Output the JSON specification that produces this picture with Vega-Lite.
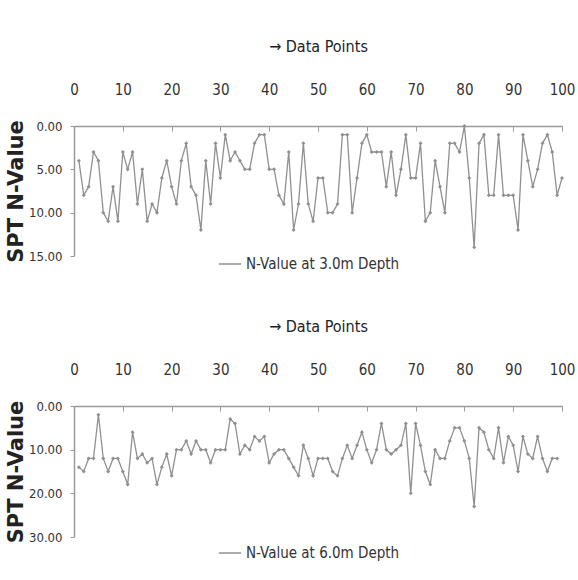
{
  "$schema": "https://vega.github.io/schema/vega-lite/v6.json",
  "background": "white",
  "padding": {"left": 5, "top": 38, "right": 0, "bottom": 4},
  "bounds": "flush",
  "spacing": 150,
  "config": {
    "font": "DejaVu Sans Condensed, Liberation Sans Narrow, Roboto, sans-serif",
    "view": {"stroke": null},
    "axis": {
      "grid": false,
      "domainColor": "#9a9a9a",
      "domainWidth": 1.5,
      "tickColor": "#9a9a9a",
      "labelColor": "#333333",
      "labelFont": "DejaVu Sans Condensed, Liberation Sans Narrow, Roboto, sans-serif",
      "titleFont": "DejaVu Sans Condensed, Liberation Sans Narrow, Roboto, sans-serif",
      "titleColor": "#222222"
    },
    "legend": {"labelFont": "DejaVu Sans Condensed, Liberation Sans Narrow, Roboto, sans-serif", "labelColor": "#333333", "labelLimit": 400}
  },
  "resolve": {
    "scale": {"x": "independent", "y": "independent", "color": "independent"},
    "legend": {"color": "independent"}
  },
  "datasets": {
    "d3": [
      {"point": 1, "n": 4}, {"point": 2, "n": 8}, {"point": 3, "n": 7}, {"point": 4, "n": 3}, {"point": 5, "n": 4},
      {"point": 6, "n": 10}, {"point": 7, "n": 11}, {"point": 8, "n": 7}, {"point": 9, "n": 11}, {"point": 10, "n": 3},
      {"point": 11, "n": 5}, {"point": 12, "n": 3}, {"point": 13, "n": 9}, {"point": 14, "n": 5}, {"point": 15, "n": 11},
      {"point": 16, "n": 9}, {"point": 17, "n": 10}, {"point": 18, "n": 6}, {"point": 19, "n": 4}, {"point": 20, "n": 7},
      {"point": 21, "n": 9}, {"point": 22, "n": 4}, {"point": 23, "n": 2}, {"point": 24, "n": 7}, {"point": 25, "n": 8},
      {"point": 26, "n": 12}, {"point": 27, "n": 4}, {"point": 28, "n": 9}, {"point": 29, "n": 2}, {"point": 30, "n": 6},
      {"point": 31, "n": 1}, {"point": 32, "n": 4}, {"point": 33, "n": 3}, {"point": 34, "n": 4}, {"point": 35, "n": 5},
      {"point": 36, "n": 5}, {"point": 37, "n": 2}, {"point": 38, "n": 1}, {"point": 39, "n": 1}, {"point": 40, "n": 5},
      {"point": 41, "n": 5}, {"point": 42, "n": 8}, {"point": 43, "n": 9}, {"point": 44, "n": 3}, {"point": 45, "n": 12},
      {"point": 46, "n": 9}, {"point": 47, "n": 2}, {"point": 48, "n": 9}, {"point": 49, "n": 11}, {"point": 50, "n": 6},
      {"point": 51, "n": 6}, {"point": 52, "n": 10}, {"point": 53, "n": 10}, {"point": 54, "n": 9}, {"point": 55, "n": 1},
      {"point": 56, "n": 1}, {"point": 57, "n": 10}, {"point": 58, "n": 6}, {"point": 59, "n": 2}, {"point": 60, "n": 1},
      {"point": 61, "n": 3}, {"point": 62, "n": 3}, {"point": 63, "n": 3}, {"point": 64, "n": 7}, {"point": 65, "n": 3},
      {"point": 66, "n": 8}, {"point": 67, "n": 5}, {"point": 68, "n": 1}, {"point": 69, "n": 6}, {"point": 70, "n": 6},
      {"point": 71, "n": 2}, {"point": 72, "n": 11}, {"point": 73, "n": 10}, {"point": 74, "n": 4}, {"point": 75, "n": 7},
      {"point": 76, "n": 10}, {"point": 77, "n": 2}, {"point": 78, "n": 2}, {"point": 79, "n": 3}, {"point": 80, "n": 0},
      {"point": 81, "n": 6}, {"point": 82, "n": 14}, {"point": 83, "n": 2}, {"point": 84, "n": 1}, {"point": 85, "n": 8},
      {"point": 86, "n": 8}, {"point": 87, "n": 1}, {"point": 88, "n": 8}, {"point": 89, "n": 8}, {"point": 90, "n": 8},
      {"point": 91, "n": 12}, {"point": 92, "n": 1}, {"point": 93, "n": 4}, {"point": 94, "n": 7}, {"point": 95, "n": 5},
      {"point": 96, "n": 2}, {"point": 97, "n": 1}, {"point": 98, "n": 3}, {"point": 99, "n": 8}, {"point": 100, "n": 6}
    ],
    "d6": [
      {"point": 1, "n": 14}, {"point": 2, "n": 15}, {"point": 3, "n": 12}, {"point": 4, "n": 12}, {"point": 5, "n": 2},
      {"point": 6, "n": 12}, {"point": 7, "n": 15}, {"point": 8, "n": 12}, {"point": 9, "n": 12}, {"point": 10, "n": 15},
      {"point": 11, "n": 18}, {"point": 12, "n": 6}, {"point": 13, "n": 12}, {"point": 14, "n": 11}, {"point": 15, "n": 13},
      {"point": 16, "n": 12}, {"point": 17, "n": 18}, {"point": 18, "n": 14}, {"point": 19, "n": 11}, {"point": 20, "n": 16},
      {"point": 21, "n": 10}, {"point": 22, "n": 10}, {"point": 23, "n": 8}, {"point": 24, "n": 11}, {"point": 25, "n": 8},
      {"point": 26, "n": 10}, {"point": 27, "n": 10}, {"point": 28, "n": 13}, {"point": 29, "n": 10}, {"point": 30, "n": 10},
      {"point": 31, "n": 10}, {"point": 32, "n": 3}, {"point": 33, "n": 4}, {"point": 34, "n": 11}, {"point": 35, "n": 9},
      {"point": 36, "n": 10}, {"point": 37, "n": 7}, {"point": 38, "n": 8}, {"point": 39, "n": 7}, {"point": 40, "n": 13},
      {"point": 41, "n": 11}, {"point": 42, "n": 10}, {"point": 43, "n": 10}, {"point": 44, "n": 12}, {"point": 45, "n": 14},
      {"point": 46, "n": 16}, {"point": 47, "n": 9}, {"point": 48, "n": 12}, {"point": 49, "n": 16}, {"point": 50, "n": 12},
      {"point": 51, "n": 12}, {"point": 52, "n": 12}, {"point": 53, "n": 15}, {"point": 54, "n": 16}, {"point": 55, "n": 12},
      {"point": 56, "n": 9}, {"point": 57, "n": 12}, {"point": 58, "n": 9}, {"point": 59, "n": 6}, {"point": 60, "n": 10},
      {"point": 61, "n": 13}, {"point": 62, "n": 10}, {"point": 63, "n": 4}, {"point": 64, "n": 10}, {"point": 65, "n": 11},
      {"point": 66, "n": 10}, {"point": 67, "n": 9}, {"point": 68, "n": 4}, {"point": 69, "n": 20}, {"point": 70, "n": 4},
      {"point": 71, "n": 9}, {"point": 72, "n": 15}, {"point": 73, "n": 18}, {"point": 74, "n": 10}, {"point": 75, "n": 12},
      {"point": 76, "n": 12}, {"point": 77, "n": 8}, {"point": 78, "n": 5}, {"point": 79, "n": 5}, {"point": 80, "n": 8},
      {"point": 81, "n": 12}, {"point": 82, "n": 23}, {"point": 83, "n": 5}, {"point": 84, "n": 6}, {"point": 85, "n": 10},
      {"point": 86, "n": 12}, {"point": 87, "n": 5}, {"point": 88, "n": 13}, {"point": 89, "n": 7}, {"point": 90, "n": 9},
      {"point": 91, "n": 15}, {"point": 92, "n": 7}, {"point": 93, "n": 11}, {"point": 94, "n": 12}, {"point": 95, "n": 7},
      {"point": 96, "n": 12}, {"point": 97, "n": 15}, {"point": 98, "n": 12}, {"point": 99, "n": 12}
    ]
  },
  "vconcat": [
    {
      "width": 488,
      "height": 130,
      "data": {"name": "d3"},
      "mark": {"type": "line", "color": "#909090", "strokeWidth": 1.3, "point": {"shape": "diamond", "size": 16, "filled": true, "color": "#555555"}},
      "encoding": {
        "x": {
          "field": "point", "type": "quantitative",
          "scale": {"domain": [0, 100], "nice": false},
          "axis": {
            "orient": "top", "values": [0, 10, 20, 30, 40, 50, 60, 70, 80, 90, 100],
            "title": "→  Data Points", "titleFontSize": 16, "titleFontWeight": "normal", "titlePadding": 28,
            "labelFontSize": 15, "labelPadding": 34, "tickSize": -5, "labelFlush": false
          }
        },
        "y": {
          "field": "n", "type": "quantitative",
          "scale": {"domain": [0, 15], "reverse": true, "nice": false},
          "axis": {
            "values": [0, 5, 10, 15], "format": ".2f",
            "title": "SPT N-Value", "titleFont": "DejaVu Sans", "titleFontSize": 21, "titleFontWeight": "bold", "titlePadding": 2,
            "labelFontSize": 13, "labelPadding": 8, "tickSize": 4
          }
        },
        "color": {
          "datum": "N-Value at 3.0m Depth",
          "scale": {"range": ["#909090"]},
          "legend": {"title": null, "orient": "none", "legendX": 144, "legendY": 126, "labelFontSize": 15, "symbolType": "stroke", "symbolSize": 500, "symbolStrokeWidth": 1.5}
        }
      }
    },
    {
      "width": 488,
      "height": 131,
      "data": {"name": "d6"},
      "mark": {"type": "line", "color": "#909090", "strokeWidth": 1.3, "point": {"shape": "diamond", "size": 16, "filled": true, "color": "#555555"}},
      "encoding": {
        "x": {
          "field": "point", "type": "quantitative",
          "scale": {"domain": [0, 100], "nice": false},
          "axis": {
            "orient": "top", "values": [0, 10, 20, 30, 40, 50, 60, 70, 80, 90, 100],
            "title": "→  Data Points", "titleFontSize": 16, "titleFontWeight": "normal", "titlePadding": 28,
            "labelFontSize": 15, "labelPadding": 34, "tickSize": -5, "labelFlush": false
          }
        },
        "y": {
          "field": "n", "type": "quantitative",
          "scale": {"domain": [0, 30], "reverse": true, "nice": false},
          "axis": {
            "values": [0, 10, 20, 30], "format": ".2f",
            "title": "SPT N-Value", "titleFont": "DejaVu Sans", "titleFontSize": 21, "titleFontWeight": "bold", "titlePadding": 2,
            "labelFontSize": 13, "labelPadding": 8, "tickSize": 4
          }
        },
        "color": {
          "datum": "N-Value at 6.0m Depth",
          "scale": {"range": ["#909090"]},
          "legend": {"title": null, "orient": "none", "legendX": 144, "legendY": 135, "labelFontSize": 15, "symbolType": "stroke", "symbolSize": 500, "symbolStrokeWidth": 1.5}
        }
      }
    }
  ]
}
